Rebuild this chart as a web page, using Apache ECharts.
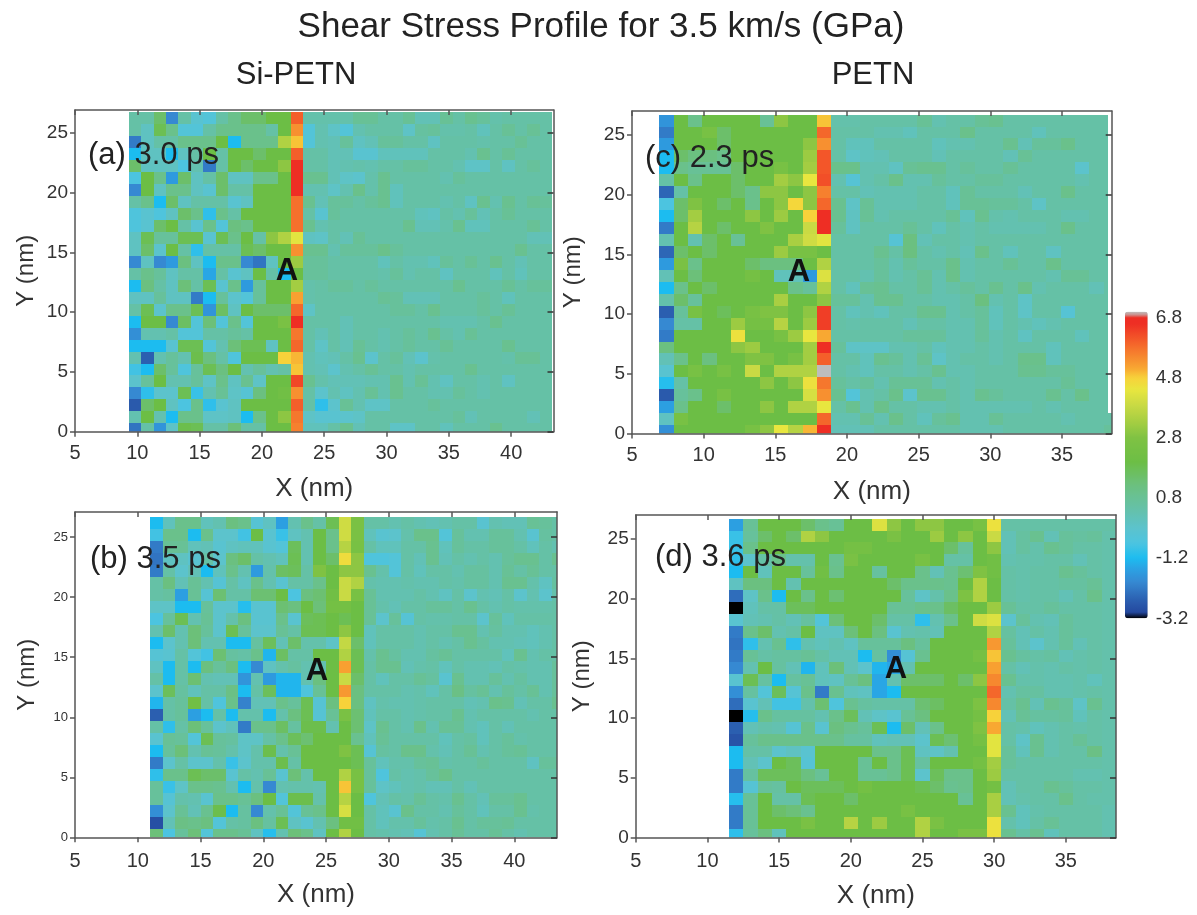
<!DOCTYPE html>
<html><head><meta charset="utf-8">
<style>html,body{margin:0;padding:0;background:#fff}#c{width:1197px;height:915px;filter:blur(.6px)}</style>
<script src="https://cdn.jsdelivr.net/npm/echarts@6/dist/echarts.min.js"></script>
</head><body><div id="c"></div>
<script>
// rows listed top to bottom; each value is one 1 nm cell, in GPa
const panelA = [
[.5,.5,1.5,-2,.5,-.3,-.5,.5,1,1.5,1.5,2,2,6, .4,.4,.4,.4,.8,.8,.5,.5,.8,.2,.2,.8,.5,.9,.7,.4,.5,.5,.5,.5],
[.5,0,1.8,1,-.5,-.5,.5,1,1,1,1,.5,2,5.4, -.5,.3,-.1,-.5,.3,.5,.5,.5,-.1,.6,.7,.4,.4,.5,.1,.5,.8,.5,.8,.5],
[-2.2,0,.5,.5,1,1,1,2,-1.2,1,1,1,3.5,4.9, -.5,.3,.2,.7,0,.2,.7,.7,.5,.5,0,.5,.5,.5,.4,.5,.5,.8,.5,.5],
[-1.2,0,0,-1.2,0,.5,2,.5,2,2,1.5,2,2,6, .5,.5,.2,.2,-.3,-.3,.1,.1,.1,.1,.5,.5,.5,.3,.9,.5,.8,.5,.5,.5],
[1.5,0,0,0,-.7,.3,-2.2,.5,2,1.5,2,2,3,6.6, .5,.5,.2,.3,.4,.3,.5,.5,.7,.7,.5,.5,.3,-.1,-.1,.5,0,.5,.7,.5],
[-.7,2,1,-1.7,1.5,0,.5,1.5,0,0,1,1,2,6.6, .9,.9,.2,-.1,-.2,.4,.9,.5,.5,.5,.5,.3,.7,.5,.5,.5,.5,.5,.5,.5],
[-2,2,0,1,1,0,-.3,1.5,.5,.5,2,2,2,6.6, .3,.3,-.1,.3,1,.4,.9,.1,.5,.5,.5,.5,.5,.5,.5,.5,.5,.5,.5,.5],
[.5,1,-1.2,1.5,0,.5,.5,.5,-.3,0,2,2,2,5.8, .9,.2,.7,.7,.5,.7,.9,.1,.5,.5,.5,.3,.5,0,.9,.3,.9,.5,.8,.7],
[-.6,-.3,-.6,0,1.5,1,-1,1,.5,2,2,2,2,5.8, .5,-.3,.7,.5,.5,.5,.5,.5,.5,.1,0,.5,.3,.7,.2,.5,.8,.5,.5,.5],
[-.6,-.3,1.5,2,.5,-.3,1,-.5,1.2,1,2,2,2,5.8, .9,.3,.5,.5,.5,.5,.5,.5,.9,.2,.2,.4,.9,.1,.1,.5,.5,.5,.8,.5],
[0,1.8,.7,.7,1.8,1.8,-.3,1.8,1,2,.5,3,3.5,4.3, 0,-.1,.5,.2,.8,.5,.5,.5,.5,.5,.5,.5,.5,.5,.5,.5,.5,.5,.2,.2],
[0,1.5,-.2,2,.5,-1,.5,.5,.5,1.8,1.5,2,2,5.4, .9,.9,.3,.7,.7,.7,1,.7,.5,.5,.5,.5,.5,.5,.5,.5,.5,.9,.5,.5],
[-2,0,-2,-1.7,1.2,0,-1.2,1,1,-2,-2.3,0,2,3.2, .7,.7,.5,.5,.5,.5,.1,.5,.3,.3,.1,.7,.5,.8,.5,.9,.5,.2,.5,.5],
[.5,1,.7,0,.5,.5,-1.5,.5,-.3,0,2,.5,-1.2,2, .7,.7,.5,.5,.5,.5,.4,.7,.3,.5,.5,0,.5,.5,.5,.1,.5,.1,.5,.5],
[-1.2,1.2,.5,0,1.3,.5,1.8,-.3,1,-1.7,.7,2,2,3.3, .4,.5,.7,.7,.5,.7,.5,.5,.5,.5,.5,.5,.9,.5,.5,.5,.8,.5,.7,.7],
[0,0,.7,0,0,-2.2,-1.2,.7,-.2,-.5,.7,2,2,5.2, .4,.5,.5,.5,.5,.5,.8,.7,.2,.2,.2,.5,.5,.5,.7,.5,.1,.5,.5,.5],
[.5,1.8,-.2,1,1,1.8,-1.8,1.6,0,2,1.5,1.5,1.5,5.9, -.1,.5,.5,.5,.5,.5,.5,.7,.7,.5,.9,.5,.5,.5,.7,.5,.8,.5,.5,.5],
[-1.2,2,2,-2,1.6,-.5,1.3,-.5,1,-.5,2,2,2.6,6.6, .5,.5,.5,.2,.5,.5,.5,.5,.5,.5,.5,.3,.3,.3,.5,.9,.5,.5,.5,.5],
[-1.9,.3,.3,.5,-.5,-.5,.5,.5,.7,.5,2,2,2,5.7, .5,.2,.5,.2,.5,.5,.3,.5,.7,.5,.9,.5,.3,.8,.5,.5,.5,.5,.5,.5],
[-1.2,-1.2,-1.2,-.3,1.8,1.8,-.5,.3,1.3,1.8,1.8,0,2,5.9, .5,-.1,.5,.2,.8,.5,.3,.5,.7,.5,.5,.8,.5,.5,.5,.5,.9,.5,.5,.5],
[.3,-2.6,.3,.7,.3,1.9,1.2,.5,-.6,2,2,2,4.8,5, .3,.1,.2,.5,.9,-.2,.5,.7,.2,-.2,.4,.5,.5,.5,.5,.5,.4,.8,.8,.5],
[-.8,-1.2,1.5,.7,-.6,.7,1.8,1.2,2,.3,.7,.3,.5,4.9, .3,.2,-.2,.3,.5,.8,.5,.5,.3,.5,.5,.5,.5,.9,.5,.5,.5,.5,.5,.5],
[-.2,.7,2,.3,.3,.7,-.1,1,0,.9,-.1,2,2,6.3, .9,.4,.2,.2,.2,.3,.3,.9,.3,.8,.3,0,.5,.5,.3,.5,0,.5,.5,.5],
[-2,-1,-.2,-.2,1.8,-.9,.3,.8,-.1,-.4,1.2,2,2.2,5.4, .5,-.2,.3,0,.3,.8,.3,.9,.5,.5,.3,.3,.7,.5,.3,.5,.5,.5,.5,.5],
[-2.7,1.5,2,0,-.7,1,-1,-.3,0,2,2,2,2,6, .5,-1,-.2,.8,.3,-.1,-.1,.5,.5,.5,.7,.5,.5,.5,.5,.5,.5,.5,.5,.5],
[.3,2,.3,-1.2,1,1,-.1,-.1,0,-1.2,1,2,3,5.7, -.1,-.3,-.3,-.2,-.1,.5,.5,.5,.5,.5,.5,.5,.7,.2,.5,.5,.5,.5,.2,.5],
[-2.3,.5,-1.8,-.1,1.9,1.8,.5,.5,1.3,.5,.5,2,2,5.6, .1,.1,.5,.9,.2,.5,.5,-.1,-.1,.5,.5,.1,.5,.5,.5,.9,.5,.5,.5,.5]
];
const panelB = [
[-1.2,.1,1,1,.1,.3,1.2,1,-.4,0,-1.6,.3,1,.5,1.8,4,2.6, .5,.5,.3,.5,.3,.2,.3,.5,.5,-.3,.3,.2,.2,.8,.7,.5],
[-.8,1,1,-1.2,1,-.2,-.2,-.8,2,-.3,-.9,0,.3,2,1,4,2.6, .1,-.3,-.2,.4,1,1,-.5,.7,.3,.3,.7,.7,.3,-.3,.6,.5],
[-2.2,.8,.8,.1,.2,-.3,0,.1,.1,-.3,-.5,1.7,.3,2,1,3.6,2.5, .5,.1,.1,.5,.5,.9,.1,.7,.5,.5,.7,.7,.5,.1,.5,.3],
[-2.3,0,0,-.3,.5,-.2,1.2,1.5,.5,.3,.1,1.8,.3,2,1.5,4.6,3, -.6,-.6,-.5,.5,.2,.9,.2,.5,.3,.5,.3,.7,.9,.9,.5,.9],
[-2.2,.5,-.2,.2,-1.2,.1,1,.3,-1.7,.4,1.6,1.7,.5,2.8,2,3,3, .9,.4,-.5,.5,.1,.5,.5,.3,.6,.6,.3,.8,.5,.8,.5,.5],
[.5,1.2,.2,.8,.3,-.4,.5,0,1,.3,-.3,.5,.5,1,2,3.9,3.5, .4,.3,.3,.4,.3,.3,.5,.4,.6,.6,.3,.9,.9,.4,0,.6],
[.5,.6,-1.6,.8,-.4,1.4,.5,.5,1.4,1.4,2,-.7,1.2,1.4,2.2,3.9,2.5, .8,.3,.3,.3,.5,.3,0,.5,-.2,.3,.2,.5,-.2,.3,-.2,.4],
[-.1,-.1,-1.2,-1.2,.7,-.2,-.2,-1.1,-.3,-.3,1.4,1.2,2,1.3,2.3,2.3,2, .8,.4,.2,.5,.5,.7,.7,.5,.9,.5,.3,.5,.4,.4,.4,.5],
[-.7,.7,1.8,.3,.8,-.2,.4,1.2,-.3,-.3,1,-.3,1.7,1.8,2,1.8,2, .8,-.2,.7,-.4,.5,.4,.4,.5,.5,-.2,.7,.1,.5,.5,.5,.5],
[.3,1.5,.3,1.3,.7,-.2,1.8,.7,-.2,-.2,.8,.5,1.8,1.8,2,3,2, .1,.5,.5,.5,.3,.5,.5,.9,.9,.3,.6,.3,.3,.1,.3,.5],
[-1.2,-.2,.3,1.3,.3,.3,-1.2,-1.2,.6,1.7,.2,1.5,.4,.4,-.1,3.8,1.5, .1,.5,.5,.5,.3,.5,.3,.5,.9,.6,.3,.3,.2,.1,.3,.5],
[-.4,-.3,.5,-.5,-.8,1.4,.6,.5,1,-1.3,1.6,.5,.5,2,2,3.5,1.8, .4,.9,.6,.3,.3,.6,.8,.5,.5,.5,.5,.1,.9,.3,.5,.5],
[0,-1.2,.5,-1.2,1.2,.7,1.2,-1.2,-2,0,.4,.6,.3,.3,2,5.2,1.8, .5,.9,.9,.2,.4,.5,.1,.5,.3,.3,.2,.5,.4,.3,.3,.7],
[.5,-1.2,.5,1.4,.3,.2,.2,-1.8,.3,-1.7,-1.3,-1.3,.3,1.2,2,3.9,1.5, .5,.1,.5,.5,.8,.6,-.3,.9,.3,.3,.7,.3,.6,.3,.3,.7],
[-.2,1.7,.6,.1,.5,.5,1.1,-1.2,.5,1.7,-1.3,-1.3,-.6,.8,2,5.3,1.2, .5,.5,.5,.3,.4,.1,.5,1.1,.6,.8,.3,.7,.5,.8,.3,.7],
[-1.3,.5,.7,2.2,.5,-.6,1,-2.1,.2,.2,1,.7,1.8,-.4,1.2,4.8,1.2, 0,.4,.3,.3,.4,.5,.5,.5,.2,.3,1,.9,.2,.5,.5,.9],
[-2.6,.5,.7,-1.6,-1.2,.5,-1.2,.4,.4,-1.2,.4,1.2,1.8,-.4,.8,2.6,1.4, .1,.5,.5,.3,.4,.5,.5,.9,.3,.5,.5,.5,.5,.3,.5,.5],
[.5,-1,.5,1.3,.7,-.2,.1,-2.2,1,1,1.6,.6,1.9,1.9,.3,2,1.4, -.1,.9,.5,.3,1,.3,.8,.8,.3,.1,.5,.2,.5,.5,.5,.5],
[-.3,.8,.7,-.5,1.8,.7,.6,-.1,-.1,.5,1,1.7,1.4,2,2,2,.9, .1,.8,.5,.5,.5,.5,.1,.5,.6,.1,.5,.7,.4,.5,.5,.5],
[-1.2,.7,1.3,.3,.8,.7,.4,-.1,.4,1.9,.4,.8,2,2,2,2.8,1.8, -.4,.6,.5,1,1,.4,.2,.5,.8,.3,.5,.7,.8,.5,.5,.5],
[-2.2,-.2,.5,-.2,-.2,.4,-.9,-.2,.4,.4,1.9,.5,2,2,2,2,1.8, .7,.1,.4,.4,.7,.8,.4,.5,.5,.7,.5,.5,.5,0,.7,.7],
[-1,1,1,1.8,1.5,1.5,-.3,.5,.3,.8,-.3,1.3,.4,2,2,3.5,2.5, .7,-.6,.5,.3,.4,.7,1,.5,.5,.5,.5,.5,.5,.5,.5,.5],
[.7,-.9,-.1,1,1,.9,.3,-1.2,.4,-2,.3,.4,.4,.3,2,4.9,2.5, .7,-.1,.1,.3,.4,.2,.2,.5,.2,.5,.5,.5,.5,.5,.5,.5],
[.7,-.4,.4,.3,-.3,1,1,.8,1.2,2,-.5,1.9,1.9,.4,2,3.6,2, -.6,.2,.5,.4,.8,.5,.4,.9,.5,.2,.7,.7,.9,.5,.5,.5],
[-1.9,-.2,.8,.2,.9,1.9,-1.2,.6,-2,.4,.8,-.5,.8,1,2,4.1,2, .5,.1,-.3,1,.5,.5,.3,.7,.5,.1,.5,.5,.9,.4,.5,.5],
[-2.9,.2,1.1,1,1.2,-.5,.5,.6,1.2,.6,1.8,0,-.3,.3,1.2,2.2,2.2, .5,.1,.4,.4,.7,.4,.5,.9,.5,.7,.7,.8,.5,.5,.5,.5],
[1.3,-.7,.7,1.3,-.5,1,1,.8,0,-1.1,.3,1.3,1,0,2,3.5,2, .5,.4,.3,.2,-.4,.3,.5,.8,.5,.5,.8,.5,.3,.5,.5,.5]
];
const panelC = [
[-1.8,2,1,2,2,2,2,.8,3,2,2,4.9, .4,.4,.5,.5,.5,.5,.8,.3,.5,.5,.8,.9,.5,.5,.5,.5,.5,.5,.5,.5],
[-2.2,2,2,2.5,1.5,2,2,2,2,2,2,5.9, .5,.5,.5,.3,.3,.1,.5,.5,.5,1,.5,.5,.5,.5,.1,.5,.5,.5,.5,.5],
[-1.7,2,2,2,1.5,2,2,2,2,2,3,5.4, .5,.1,.1,.5,.5,.5,.5,.1,.3,.3,.5,.5,.9,.2,.7,.7,1,.5,.5,.5],
[-1.2,1.5,1.2,1.2,1,2,2,2,2,2,3.2,6.1, .5,-.1,.1,.2,.5,.5,.5,.2,.5,.5,.5,.5,.2,.8,.5,.5,.5,.5,.5,.5],
[-1.2,1,.8,.8,.8,1.5,2,2,2.5,2,3.3,6.1, 1,1,.3,.3,0,.8,.9,.9,.5,.7,.5,.5,.8,.5,.5,.5,.5,-.2,.5,.5],
[.5,2,1,2,2,1.5,2,2,3.3,3,4.4,6.2, .3,-.4,.3,.5,1,.3,.3,.7,.5,.5,.7,.7,.5,.5,.5,.5,.5,.3,.5,.5],
[-2.5,.5,2,2,2,1.5,1,3,3,2,3,5.6, .5,.5,.2,.3,.3,.3,.5,.5,.1,.8,.5,.5,.5,.2,.5,.5,1,.5,.5,.5],
[-.7,1.5,2.8,2,1.5,2,1,2,3,4.7,3,5.9, .9,-.1,.8,.3,.3,.3,.5,.5,.1,.8,.8,.7,.7,.5,-.1,.5,.5,.5,.5,.5],
[-1.2,1.5,3.3,2,2,2,3,2,3.2,2,4.8,6.6, .9,0,.8,.3,.5,.5,.5,.5,.8,.1,.9,.4,.3,.5,.5,.5,.3,.3,.5,.5],
[-2.2,2,3.6,2,1.5,2,2,2.8,2,2,3.9,6.6, .7,0,.5,.5,.5,.8,.5,.1,.5,.3,.5,.3,.3,.3,.3,.5,1,.5,.5,.5],
[.3,2,.3,1.5,2,.8,2,2,2,3.4,4,4.3, .5,.5,.5,.5,-.4,1.2,.2,.5,.5,.3,.5,.5,.5,.5,.5,.5,.5,.5,.5,.5],
[-2.5,1.5,2,1.5,2,2,2,2,3.2,2.5,2.5,2, .5,.5,.5,.9,.5,1.2,.5,.3,.5,.2,1,.5,.1,.5,.5,0,.5,.5,.5,.5],
[-1.7,2.6,1,2,2,2,1.5,1.2,1.2,1.2,2,3.5, .5,.5,.5,.7,.3,.7,.5,.5,1,.3,.5,.5,.8,.5,.5,1,.5,.5,.5,.5],
[.2,2,1.3,2,2,2,2.4,2,.1,.1,-1.7,4.2, .5,.5,.3,.7,.3,.5,.8,.3,1,.3,.5,.5,.5,.5,.5,.3,.8,.8,.5,.5],
[-1.2,1,2,1.5,2,2,2,2,2,1,.7,3.5, .5,.1,.8,.9,.5,.5,.8,.3,.5,.7,.5,.9,.5,1,.3,.5,.5,.5,.2,.5],
[.4,1.5,.7,2,2,2,2,2,3.4,2,2,3, .7,.7,.3,.9,.9,.5,.5,.3,.3,.5,1.2,.3,.5,-.1,.5,.5,.5,.5,.5,.5],
[-2.6,.7,2.5,2,1.7,2,2.5,2.8,2.8,2,3,6.4, .5,.1,.3,.1,.5,.5,.9,.9,.3,.5,.7,.1,.5,-.1,.5,.5,-.4,.5,.5,.5],
[-2,.5,.5,2,2,3.2,2.4,2.4,3.6,2,3.2,6.4, .5,.4,.5,.5,.5,.2,.5,.5,.3,.3,.7,.1,.5,.3,.1,.3,.5,.5,.5,.5],
[-2.2,2,2,2,2,4.5,2,2,2.5,3.2,4.4,5.1, .5,.5,.5,.5,.5,.7,.7,.7,.3,.3,.7,.3,.5,0,.5,.5,.5,.1,.5,.5],
[1.2,2,2,2,2,3,3.2,2,2,2,3.3,6.6, .7,-.1,-.1,-.1,.3,.3,.5,.1,.3,.3,.5,.3,.5,.5,.5,.1,.5,.5,.5,.5],
[.2,1,2,1.2,2,2,2.8,2.8,2,2.5,3.3,6, .5,.5,.1,.9,.7,.3,.8,-.1,.3,.5,.5,.3,.5,1,1,.1,.5,.5,.5,.5],
[-.3,2,2.5,2,2.5,2,3.9,2,3.5,3.5,3.5,7, .5,.3,.1,.5,.5,.3,.5,.9,.3,.3,.5,.5,.5,.9,.9,.7,.7,.5,.5,.5],
[-1.1,.5,2,2,2,2,2,3,2,3,4.5,5.7, .7,.5,.7,.3,.8,.8,.8,.3,.5,.3,.5,.5,.5,.5,.5,.5,.8,.5,.5,.5],
[-2.7,.7,1,2,2.5,2,2,2,2,2,4.1,5.4, .9,-.5,.3,.5,1,-.2,.9,.9,.5,.3,.9,.7,.5,.5,.5,.9,.5,1,.5,.5],
[-1.6,1,2,2,1.5,2,2,3,2,3.5,3.5,4.4, .5,.9,.3,1,.5,.5,.3,.3,.5,.3,.3,.3,.3,.3,.5,.3,.5,.5,.5,.5],
[0,2.5,2,2,2,2,2,2,2,2,2,5.9, .3,.3,.8,.3,1,.5,.1,.7,.9,.3,.3,.8,.5,.5,.5,.5,.3,.5,.5,.5],
[-1.9,2,2,2,2,2,2.5,3,4.4,3.6,5,6.6, .2,.2,.2,.5,.5,.5,.5,.5,.5,.3,.3,.3,.5,.5,.5,.5,.5,.5,.5,.7]
];
const panelD = [
[-1.6,.8,2,2,2,1.5,1,.8,2,2,4.2,3,2,3,3,2,2,2.5,4.5, .5,.5,.5,.5,.5,.5,.5,.5],
[-.9,.7,1.5,2,1.5,3.5,3,2,2,2,2,2.6,2,2,3.2,2,3,2,3.9, .2,.6,.9,.2,.7,.6,.7,.4],
[-.9,1,2,2,2,2,2,2,2.4,2.4,2,2,2,2,2,1.5,.7,2,3, .2,.6,.4,.9,.7,.5,.5,.4],
[-1,-.2,.5,1,.4,.4,2,.9,2.6,2,2,2,2,2.5,2,.5,.5,2,2.2, .3,.4,.4,.5,.5,.2,.5,.4],
[-1.2,2,.1,2,2,.7,2.2,1,2,2,.6,2,2,1,.2,.9,1.4,2.8,2.2, .5,.4,.5,.5,.9,.7,.5,.4],
[0,1.2,1.2,2,.3,2,2,2,2,2,2,1.5,1,1,1,.9,2,3.5,2, .5,.4,.5,.5,.6,.6,.8,.4],
[-2.4,-.1,1,-1.2,2,1,2,1.4,2,2,2,2,.7,-.1,.4,1,2.7,3.5,2, .5,.4,.5,.5,.2,.5,1,.4],
[-3.2,.1,.5,.5,1.7,1.7,2,2,2,2,2,.8,.8,1,1,1.6,2,2,3.2, .8,.5,.5,.7,.5,.5,.5,.4],
[-.3,.2,.3,.5,.2,.6,-.5,1.3,2,2,1.5,.5,.5,-1,.3,1,2,4,4.2, -.2,.7,.3,.2,.7,.5,.5,.4],
[-2.2,1,1.5,.3,.5,2,0,0,1.3,2,1.2,-.3,.3,.4,.2,2,2,2,3.5, .6,.2,.5,.3,.7,.5,.5,.4],
[-2.3,-1,.3,.9,-1,.3,.1,.3,0,.7,.7,.7,1.2,.7,2,2,2,2,5.3, .7,.2,-.2,.3,.7,.2,.5,.4],
[-2.2,.8,.5,.6,.6,.8,.5,.2,.2,-1.2,.6,-1.9,-.4,.9,2,2,2,2.4,4.9, .9,.6,.5,.6,.2,.4,.5,.4],
[-2,.3,2,.6,.2,-1.3,.1,1.3,.2,-.2,-1.3,-1.5,.3,2,2,2,2,2,5.2, .5,.2,.4,.3,.5,.4,.5,.4],
[-.3,1.8,.6,-1.2,.6,.8,.1,0,.8,1.2,-1.5,.3,1.5,1.5,1.5,2,1.5,3,5.5, .9,.4,.4,.3,.3,.4,.1,.4],
[-1.9,.6,-.5,1.7,-.4,1,-2.2,.9,.1,0,-1.5,-1.2,2,2,2,2,2,2,5.9, .3,.6,.6,.3,.3,.4,.5,.4],
[-2.4,-.3,.2,-.8,-.8,.4,1.4,-.6,.9,.6,.5,.5,.5,1.4,1.6,2,2,2.7,5.5, .5,.9,.2,.9,.7,-.1,.9,.4],
[-3.2,-1.1,1,.6,.6,.6,.3,1,1.7,.2,-.1,-.3,.8,1.2,2,2,2,2.4,4.8, .2,.8,.6,.6,.7,.1,.5,.4],
[-2.6,.2,.4,.3,-.4,1,-.3,1.2,.9,.7,1.8,-1.2,1.5,.2,1,2,2,2.8,5.1, .5,.4,.1,.3,.5,.4,.5,.4],
[-2.8,.7,1,1,1,1,1,1,.6,.6,.1,.2,.2,-.2,1.8,1.4,2,2.4,4.3, .5,-.1,.9,.3,.5,.8,.5,.4],
[-1.2,.5,.5,-.2,0,-.3,2,2,2,2,1,1,1.8,0,-.1,.3,2,2,4.3, .7,.1,.9,.3,.5,.5,1.1,.4],
[-1.2,.2,-.2,2,1.7,-.4,2,2,2,.8,2,1,1.8,.6,2,2,2,2.3,3.3, .7,.5,.5,.5,.5,.5,.5,.4],
[-2.2,.6,1.7,1.7,1.7,1.2,.8,2,2,.8,.8,1,1.8,-.2,1.7,1,1,2,3.2, .5,.5,.5,.5,.5,.3,.3,.4],
[-2.2,-.4,.7,.6,2,1.7,1.7,1.7,2,2.3,2,2,2,1.8,1.5,.9,1,2,2.3, .2,.5,.5,.9,.7,.5,.5,.4],
[-1.1,.8,2,.5,.5,1.8,2,2,1.5,2,2,2,2,2,2,2,.8,2,3.4, .2,.4,.5,.5,1,.5,.4,.4],
[-2.2,.8,2,1.5,1.3,.9,2,2,2,2,2,2,2.5,2,2,2,2,2,3.4, .9,.1,.4,.5,.5,.5,.5,.3],
[-2.2,.8,2,2,2,2.6,2,2,3.6,2,3.2,2,2,3.5,2.6,2,2,2,4.5, .4,.1,.5,.8,.5,.5,.5,.3],
[-1,.7,1.2,.1,2,2,2,2,2,2,2,2,2,3.5,2,2,2.6,2.6,4.5, .9,.5,.9,.1,.5,.5,.5,.3]
];
const xTicksA = [5,10,15,20,25,30,35,40];
const xTicksC = [5,10,15,20,25,30,35];
const yTicks = [0,5,10,15,20,25];
const colorbarTicks = [-3.2,-1.2,0.8,2.8,4.8,6.8];
const colorStops = [[-3.2,'#000000'],[-3.12,'#000000'],[-3.08,'#23459c'],[-2.6,'#2b5fb0'],[-2,'#3689d2'],[-1.5,'#2aa5e5'],[-1.2,'#1cbcf0'],[-.7,'#4cc4e0'],[-.2,'#5cc3cc'],[.3,'#63c1b0'],[.8,'#68c196'],[1.3,'#6cc07a'],[2,'#6cbe45'],[2.8,'#7fc243'],[3.3,'#a3cd42'],[3.9,'#c9da44'],[4.4,'#e8e63f'],[4.8,'#f7d23a'],[5.1,'#f8a832'],[5.6,'#f6802e'],[6,'#f45f2a'],[6.6,'#ee2e24'],[6.85,'#ee2e24'],[6.92,'#bdbdbd'],[7,'#bdbdbd']];

const hex = s => [1,3,5].map(i => parseInt(s.substr(i,2),16));
function colorAt(v){
  for(let i=1;i<colorStops.length;i++){
    const [a,ca]=colorStops[i-1],[b,cb]=colorStops[i];
    if(v<=b){const t=(v-a)/(b-a),A=hex(ca),B=hex(cb);
      return 'rgb('+A.map((c,k)=>Math.round(c+(B[k]-c)*t)).join(',')+')';}
  }
  return colorStops[colorStops.length-1][1];
}
const ramp=[];for(let i=0;i<=255;i++)ramp.push(colorAt(-3.2+10.2*i/255));

const panels=[
 {rows:panelA,x0:9.3,xMax:43.4,yMax:26.9,box:[75,553.5,110,431.7],ticks:xTicksA,yFont:19,yGap:37,xGap:44,xMargin:12},
 {rows:panelB,x0:11,xMax:43.4,yMax:27.1,box:[75,557,512,837.3],ticks:xTicksA,yFont:13,yGap:36,xGap:45,xMargin:14},
 {rows:panelC,x0:6.9,xMax:38.47,yMax:27,box:[632,1111.7,111,433.5],ticks:xTicksC,yFont:19,yGap:47,xGap:45,xMargin:12,dataEnd:38.2,fullRows:2},
 {rows:panelD,x0:11.5,xMax:38.5,yMax:27,box:[635.7,1116,515,837.5],ticks:xTicksC,yFont:19,yGap:41,xGap:45,xMargin:14}
];
const rowOffset=-0.3; // the grid of cells starts just below y = 0
const lineC='#555', txt='#333', font='"Liberation Sans",Arial,sans-serif';
const grid=[],xAxis=[],yAxis=[],series=[];
const baseAxis=(extra)=>Object.assign({type:'value',z:5,splitLine:{show:false},
  axisLine:{show:true,onZero:false,lineStyle:{color:lineC,width:1.5}}},extra);
panels.forEach((p,i)=>{
  const [l,r,t,b]=p.box;
  grid.push({left:l,top:t,width:r-l,height:b-t,containLabel:false,show:false});
  const xCommon={gridIndex:i,min:5,max:p.xMax};
  const yCommon={gridIndex:i,min:0,max:p.yMax};
  xAxis.push(baseAxis(Object.assign({},xCommon,{position:'bottom',name:'X (nm)',nameLocation:'middle',nameGap:p.xGap,
    nameTextStyle:{fontSize:26,color:txt,fontFamily:font},
    axisTick:{show:true,length:5,inside:false,customValues:p.ticks,lineStyle:{color:lineC,width:1.5}},
    axisLabel:{customValues:p.ticks,fontSize:20,color:txt,fontFamily:font,margin:p.xMargin}})));
  xAxis.push(baseAxis(Object.assign({},xCommon,{position:'top',
    axisTick:{show:true,length:5,inside:true,customValues:p.ticks,lineStyle:{color:lineC,width:1.5}},
    axisLabel:{show:false}})));
  yAxis.push(baseAxis(Object.assign({},yCommon,{position:'left',name:'Y (nm)',nameLocation:'middle',nameGap:p.yGap,nameRotate:90,
    nameTextStyle:{fontSize:24,color:txt,fontFamily:font},
    axisTick:{show:true,length:5,inside:false,customValues:yTicks,lineStyle:{color:lineC,width:1.5}},
    axisLabel:{customValues:yTicks,fontSize:p.yFont,color:txt,fontFamily:font,margin:7}})));
  yAxis.push(baseAxis(Object.assign({},yCommon,{position:'right',
    axisTick:{show:true,length:6,inside:true,customValues:yTicks,lineStyle:{color:'#333',width:1.5}},
    axisLabel:{show:false}})));
  const data=[];
  p.rows.forEach((row,ri)=>{
    const idx=p.rows.length-1-ri;
    const y=idx+rowOffset;
    row.forEach((v,ci)=>{
      const x=p.x0+ci;
      let end=Math.min(x+1,p.xMax);
      if(p.dataEnd&&idx>=p.fullRows)end=Math.min(end,p.dataEnd);
      if(end>x)data.push([x,y,v,end]);
    });
  });
  series.push({type:'custom',xAxisIndex:2*i,yAxisIndex:2*i,clip:true,z:2,data,
    encode:{x:0,y:1,tooltip:2},
    renderItem:(params,api)=>{
      const a=api.coord([api.value(0),api.value(1)+1]);
      const c=api.coord([api.value(3),api.value(1)]);
      const x1=Math.round(a[0]),y1=Math.round(a[1]),x2=Math.round(c[0]),y2=Math.round(c[1]);
      return {type:'rect',shape:{x:x1,y:y1,width:x2-x1,height:y2-y1},
        style:{fill:api.visual('color')}};
    }});
});
// colour-bar label axis
grid.push({left:1125,top:311.7,width:22.7,height:306.6,show:false});
xAxis.push({type:'value',gridIndex:4,show:false,min:0,max:1});
yAxis.push({type:'value',gridIndex:4,min:-3.2,max:7,position:'right',z:5,splitLine:{show:false},
  axisLine:{show:false},axisTick:{show:false},
  axisLabel:{customValues:colorbarTicks,fontSize:19,color:txt,fontFamily:font,margin:8,
    formatter:v=>v.toFixed(1)}});

const notes=[['(a) 3.0 ps',88,155],['(b) 3.5 ps',90,559],['(c) 2.3 ps',645,158],['(d) 3.6 ps',655,557]];
const marks=[[287,271],[317,671],[799,272],[896,669]];
const graphic=[
 ...notes.map(n=>({type:'text',z:20,x:n[1],y:n[2],style:{text:n[0],font:'31px '+font,fill:'#222',verticalAlign:'middle',textAlign:'left'}})),
 ...marks.map(m=>({type:'text',z:20,x:m[0],y:m[1],style:{text:'A',font:'bold 31px '+font,fill:'#111',verticalAlign:'middle',textAlign:'center'}}))
];
const chart=echarts.init(document.getElementById('c'),null,{renderer:'canvas'});
chart.setOption({
  animation:false,backgroundColor:'#fff',
  title:[
   {text:'Shear Stress Profile for 3.5 km/s (GPa)',left:596,top:5,textAlign:'center',textStyle:{fontSize:35,fontWeight:'normal',color:'#222',fontFamily:font}},
   {text:'Si-PETN',left:291,top:55,textAlign:'center',textStyle:{fontSize:31,fontWeight:'normal',color:'#222',fontFamily:font}},
   {text:'PETN',left:868,top:55,textAlign:'center',textStyle:{fontSize:31,fontWeight:'normal',color:'#222',fontFamily:font}}
  ],
  grid,xAxis,yAxis,series,graphic,
  visualMap:{type:'continuous',min:-3.2,max:7,dimension:2,seriesIndex:[0,1,2,3],calculable:false,show:true,orient:'vertical',
    left:1125,top:311.7,itemWidth:22.7,itemHeight:306.6,padding:0,text:null,showLabel:false,
    inRange:{color:ramp},outOfRange:{color:'#bdbdbd'},hoverLink:false,textStyle:{color:'rgba(0,0,0,0)',fontSize:1}}
});
</script></body></html>
